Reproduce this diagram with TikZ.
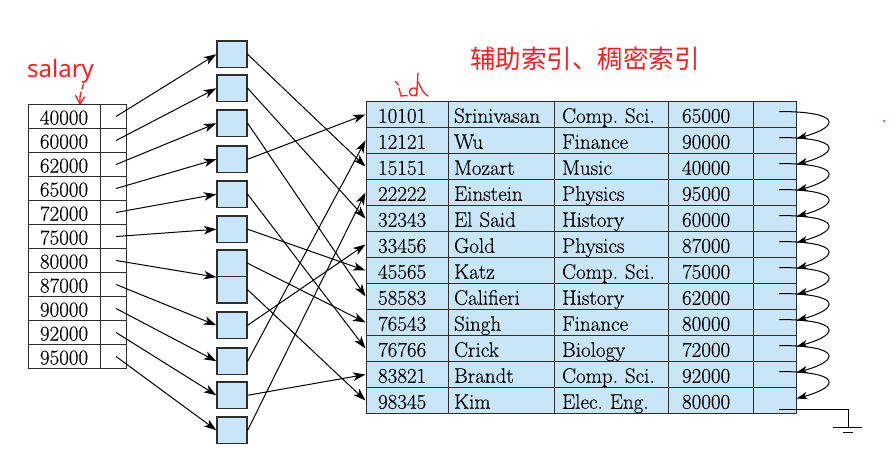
\documentclass[tikz,border=0pt]{standalone}
\usepackage{fontspec}
\newfontfamily\cjkfont{Noto Sans CJK SC}
\newfontfamily\notefont{Noto Sans}
\newfontfamily\tabfamily{Latin Modern Roman}[FakeBold=0.25]
\usetikzlibrary{arrows.meta}
\definecolor{cellblue}{RGB}{200,230,248}
\definecolor{ink}{RGB}{45,45,45}
\definecolor{note}{RGB}{255,30,30}
\frenchspacing
\begin{document}
\begin{tikzpicture}[x=1pt,y=-1pt,
  tabfont/.style={font=\tabfamily\fontsize{21}{22}\selectfont},
  lcell/.style={draw=ink, line width=1.1pt, minimum height=24pt, inner sep=0pt,
    anchor=west, tabfont, text height=16pt, text depth=0pt},
  rcell/.style={draw=ink, fill=cellblue, line width=1.1pt, minimum height=26pt,
    inner ysep=0pt, anchor=west, tabfont, text height=16.5pt, text depth=0pt, align=left},
  bucket/.style={draw=ink, fill=cellblue, line width=1.3pt, minimum width=30pt,
    minimum height=26.5pt, inner sep=0pt},
  arr/.style={-{Stealth[length=12.5pt,width=8.5pt,inset=3.5pt]}, line width=1pt},
  ptrarr/.style={-{Stealth[length=11pt,width=7.5pt,inset=3pt]}, line width=1pt},
  handline/.style={draw=note, line width=1.3pt, line cap=round, line join=round}]
\path[use as bounding box, fill=white] (0,0) rectangle (889,461);

% title and notes
\node[text=note, font=\cjkfont\fontsize{25.5}{26}\selectfont] (title) at (585,59) {辅助索引、稠密索引};
\node[text=note, font=\notefont\fontsize{24}{24}\selectfont, anchor=base west, inner sep=0pt] (salary) at (27,77.5) {salary};

% handwritten marks
\path[handline] (83.5,84) -- (82,89);
\path[handline] (81,92) .. controls (80,96) .. (80,103);
\path[handline] (75.5,95.5) -- (80,104) -- (84.5,97);
\path[handline] (395.5,81.5) -- (398.5,85);
\path[handline] (399,88) -- (401,96) -- (407,95.5);
\path[handline] (417,89) .. controls (412,86) and (408,90) .. (410,94) .. controls (412,97) and (416,96) .. (417,93);
\path[handline] (418,73) -- (416.5,96);
\path[handline] (418.5,82) .. controls (421,89) and (424,94) .. (428,96);
\fill[note] (884,121) circle (1.2);

% left index table
\foreach \v [count=\i] in {40000,60000,62000,65000,72000,75000,80000,87000,90000,92000,95000} {
  \pgfmathsetmacro\cy{104.5+24*(\i-0.5)}
  \node[lcell, minimum width=72pt] (lv\i) at (27.5,\cy) {\v};
  \node[lcell, minimum width=26pt] (lp\i) at (99.5,\cy) {};
}

% buckets
\foreach \t [count=\k] in {41,75,110,146,181,216,250,312,348,382,417} {
  \node[bucket] (b\k) at (232,\t+13.25) {};
}
\node[bucket] (b7x) at (232,289.75) {};

% right table
\foreach \ida/\nma/\dpa/\sla [count=\i] in {10101/Srinivasan/Comp. Sci./65000,
  12121/Wu/Finance/90000, 15151/Mozart/Music/40000, 22222/Einstein/Physics/95000,
  32343/El Said/History/60000, 33456/Gold/Physics/87000, 45565/Katz/Comp. Sci./75000,
  58583/Califieri/History/62000, 76543/Singh/Finance/80000, 76766/Crick/Biology/72000,
  83821/Brandt/Comp. Sci./92000, 98345/Kim/Elec. Eng./80000} {
  \pgfmathsetmacro\cy{101.5+26*(\i-0.5)}
  \node[rcell, minimum width=82pt, inner xsep=12pt, text width=58pt] (id\i) at (365.5,\cy) {\ida};
  \node[rcell, minimum width=106pt, inner xsep=6pt, text width=94pt] (nm\i) at (447.5,\cy) {\nma};
  \node[rcell, minimum width=114pt, inner xsep=8pt, text width=98pt] (dp\i) at (553.5,\cy) {\dpa};
  \node[rcell, minimum width=85pt, inner xsep=14pt, text width=57pt] (sl\i) at (667.5,\cy) {\sla};
  \node[rcell, minimum width=43pt, inner xsep=0pt] (p\i) at (752.5,\cy) {};
}

% index -> buckets
\foreach \i/\tgt in {1/b1.west,2/b2.west,3/b3.west,4/b4.west,5/b5.west,6/b6.west,
  7/b7.south west,8/b8.west,9/b9.west,10/b10.west,11/b11.west} {
  \draw[arr] ([xshift=3pt]lp\i.center) -- (\tgt);
}

% buckets -> records
\foreach \s/\r in {b1/3,b2/5,b3/8,b4/1,b5/10,b6/7,b7/9,b7x/12,b8/6,b9/2,b10/11,b11/4} {
  \draw[arr] (\s.east) -- (id\r.west);
}

% record chain
\foreach \i in {1,...,11} {
  \pgfmathtruncatemacro\j{\i+1}
  \draw[ptrarr] ([xshift=4.5pt,yshift=3pt]p\i.center) .. controls +(62,0) and +(44,-12) .. ([yshift=2pt]p\j.east);
}
\coordinate (gnd) at (848,427);
\draw[line width=1pt] ([xshift=4.5pt,yshift=-9pt]p12.center) -| (gnd);
\coordinate (g1) at (833,427);
\coordinate (g2) at (862,427);
\coordinate (g3) at (843,432.5);
\coordinate (g4) at (853,432.5);
\draw[line width=1pt] (g1) -- (g2);
\draw[line width=1pt] (g3) -- (g4);
\end{tikzpicture}
\end{document}
